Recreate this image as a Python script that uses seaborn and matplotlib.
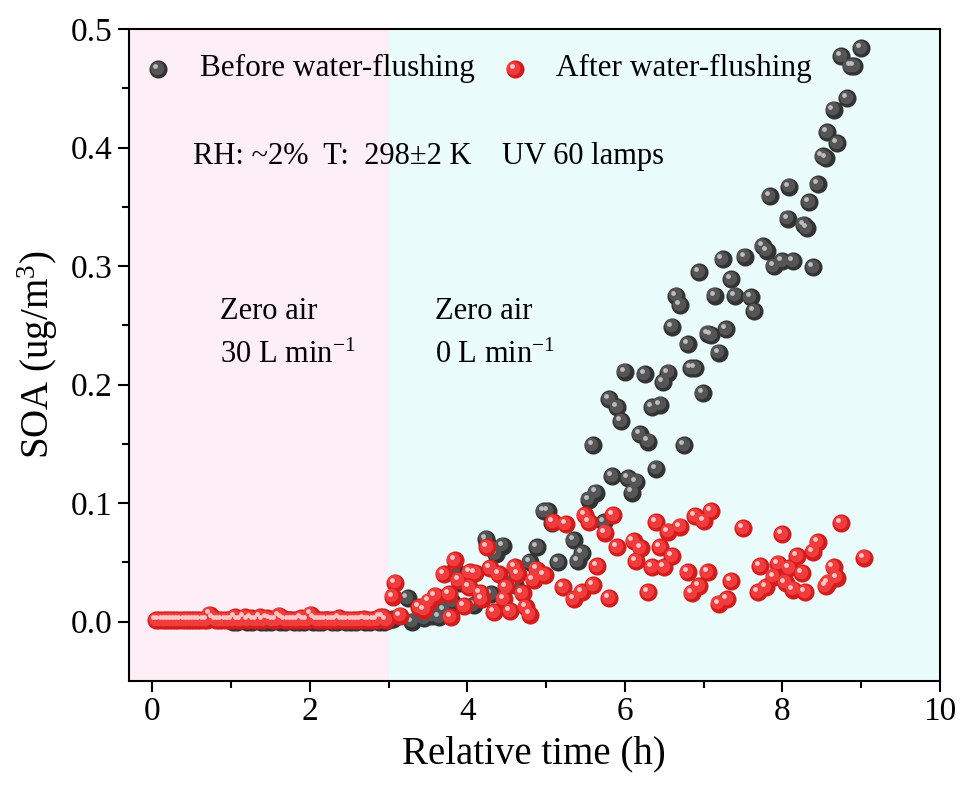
import numpy as np
import pandas as pd
import matplotlib
matplotlib.use("Agg")
import matplotlib.pyplot as plt
import matplotlib.transforms as mtransforms
import seaborn as sns

# ---- data ----
before_time = [1.02, 1.08, 1.14, 1.20, 1.26, 1.32, 1.38, 1.44, 1.50, 1.56, 1.62, 1.68, 1.74, 1.80,
               1.86, 1.92, 1.98, 2.04, 2.10, 2.16, 2.22, 2.28, 2.34, 2.40, 2.46, 2.52, 2.58, 2.64,
               2.70, 2.76, 2.82, 2.88, 2.94, 3.00,
               3.05, 3.24, 3.30, 3.45, 3.55, 3.64, 3.70, 3.81, 3.84, 3.91, 4.08, 4.24, 4.25, 4.30,
               4.36, 4.45, 4.48, 4.53, 4.60, 4.79, 4.89, 4.97, 5.02, 5.08, 5.15, 5.35, 5.40, 5.46,
               5.54, 5.59, 5.63, 5.74, 5.80, 5.84, 5.90, 5.95, 6.00, 6.04, 6.09, 6.14, 6.19, 6.25,
               6.30, 6.35, 6.40, 6.45, 6.49, 6.55, 6.60, 6.65, 6.70, 6.75, 6.80, 6.84, 6.89, 6.94,
               6.99, 7.05, 7.10, 7.14, 7.19, 7.24, 7.29, 7.35, 7.40, 7.52, 7.60, 7.64, 7.75, 7.80,
               7.84, 7.89, 8.00, 8.07, 8.09, 8.14, 8.27, 8.31, 8.34, 8.39, 8.45, 8.51, 8.55, 8.57,
               8.65, 8.70, 8.75, 8.82, 8.87, 8.91, 9.00]
before_soa = [0.000, 0.000, 0.001, 0.000, 0.000, 0.001, 0.000, 0.000, 0.000, 0.001, 0.000, 0.000,
              0.001, 0.000, 0.000, 0.000, 0.001, 0.000, 0.000, 0.000, 0.001, 0.000, 0.000, 0.001,
              0.000, 0.000, 0.000, 0.001, 0.000, 0.000, 0.001, 0.000, 0.000, 0.001,
              0.002, 0.020, 0.000, 0.003, 0.005, 0.004, 0.010, 0.017, 0.044, 0.033, 0.014, 0.070,
              0.066, 0.023, 0.057, 0.064, 0.037, 0.038, 0.031, 0.050, 0.063, 0.093, 0.093, 0.083,
              0.050, 0.069, 0.051, 0.058, 0.103, 0.149, 0.109, 0.084, 0.188, 0.123, 0.181, 0.169,
              0.211, 0.121, 0.109, 0.118, 0.158, 0.209, 0.152, 0.181, 0.129, 0.183, 0.202, 0.210,
              0.249, 0.275, 0.267, 0.149, 0.234, 0.214, 0.214, 0.295, 0.193, 0.243, 0.242, 0.275,
              0.227, 0.306, 0.247, 0.289, 0.275, 0.308, 0.274, 0.262, 0.317, 0.313, 0.359, 0.300,
              0.304, 0.340, 0.367, 0.304, 0.335, 0.332, 0.354, 0.299, 0.369, 0.393, 0.391, 0.413,
              0.432, 0.404, 0.477, 0.442, 0.469, 0.469, 0.484]

after_time = [0.05, 0.09, 0.13, 0.17, 0.21, 0.25, 0.29, 0.33, 0.37, 0.41, 0.45, 0.49, 0.53, 0.57,
              0.61, 0.65, 0.69, 0.73, 0.77, 0.81, 0.85, 0.89, 0.93, 0.97, 1.01, 1.05, 1.09, 1.13,
              1.17, 1.21, 1.25, 1.29, 1.33, 1.37, 1.41, 1.45, 1.49, 1.53, 1.57, 1.61, 1.65, 1.69,
              1.73, 1.77, 1.81, 1.85, 1.89, 1.93, 1.97, 2.01, 2.05, 2.09, 2.13, 2.17, 2.21, 2.25,
              2.29, 2.33, 2.37, 2.41, 2.45, 2.49, 2.53, 2.57, 2.61, 2.65, 2.69, 2.73, 2.77, 2.81,
              2.85, 2.89, 2.93, 2.97,
              3.05, 3.08, 3.15, 3.39, 3.45, 3.51, 3.59, 3.70, 3.77, 3.79, 3.84, 3.89, 3.96, 4.02,
              4.03, 4.10, 4.16, 4.18, 4.25, 4.29, 4.34, 4.40, 4.46, 4.49, 4.54, 4.60, 4.64, 4.70,
              4.74, 4.79, 4.84, 4.88, 4.98, 5.09, 5.22, 5.25, 5.35, 5.45, 5.49, 5.55, 5.60, 5.65,
              5.75, 5.80, 5.85, 5.90, 6.11, 6.14, 6.20, 6.30, 6.35, 6.40, 6.45, 6.50, 6.55, 6.60,
              6.70, 6.80, 6.85, 6.89, 6.94, 7.00, 7.05, 7.10, 7.19, 7.30, 7.35, 7.50, 7.69, 7.72,
              7.79, 7.89, 7.95, 8.00, 8.04, 8.09, 8.14, 8.19, 8.25, 8.29, 8.39, 8.45, 8.55, 8.58,
              8.65, 8.69, 8.75, 9.04]
after_soa = [0.001, 0.001, 0.001, 0.001, 0.001, 0.001, 0.001, 0.001, 0.001, 0.001, 0.001, 0.001,
             0.001, 0.001, 0.001, 0.001, 0.001, 0.006, 0.003, 0.001, 0.001, 0.001, 0.001, 0.001,
             0.001, 0.004, 0.001, 0.001, 0.004, 0.001, 0.003, 0.001, 0.001, 0.004, 0.001, 0.003,
             0.002, 0.001, 0.001, 0.005, 0.003, 0.001, 0.001, 0.001, 0.001, 0.001, 0.003, 0.001,
             0.001, 0.006, 0.003, 0.001, 0.001, 0.001, 0.001, 0.001, 0.001, 0.001, 0.003, 0.001,
             0.001, 0.001, 0.001, 0.001, 0.001, 0.001, 0.002, 0.001, 0.001, 0.001, 0.001, 0.004,
             0.004, 0.001,
             0.021, 0.033, 0.005, 0.012, 0.010, 0.017, 0.022, 0.040, 0.023, 0.004, 0.052, 0.035,
             0.013, 0.029, 0.042, 0.041, 0.024, 0.019, 0.063, 0.045, 0.008, 0.040, 0.019, 0.029,
             0.009, 0.046, 0.040, 0.024, 0.012, 0.006, 0.035, 0.044, 0.039, 0.084, 0.029, 0.082,
             0.019, 0.025, 0.090, 0.084, 0.031, 0.047, 0.075, 0.020, 0.090, 0.063, 0.068, 0.051,
             0.062, 0.025, 0.046, 0.084, 0.063, 0.046, 0.076, 0.055, 0.080, 0.042, 0.024, 0.089,
             0.030, 0.085, 0.042, 0.093, 0.015, 0.019, 0.034, 0.079, 0.025, 0.047, 0.029, 0.038,
             0.049, 0.074, 0.033, 0.045, 0.027, 0.055, 0.041, 0.025, 0.059, 0.067, 0.030, 0.033,
             0.046, 0.037, 0.083, 0.054]

before = pd.DataFrame({"time": before_time, "soa": before_soa})
after = pd.DataFrame({"time": after_time, "soa": after_soa})

sns.set_style("ticks")
plt.rcParams["font.family"] = ["Liberation Serif", "DejaVu Serif"]
plt.rcParams["mathtext.fontset"] = "custom"
plt.rcParams["mathtext.rm"] = "Liberation Serif"
plt.rcParams["mathtext.default"] = "regular"
plt.rcParams["text.color"] = "black"
plt.rcParams["axes.labelcolor"] = "black"
plt.rcParams["xtick.color"] = "black"
plt.rcParams["ytick.color"] = "black"

fig = plt.figure(figsize=(9.61, 7.89), dpi=100)
ax = fig.add_axes([0.134, 0.137, 0.844, 0.826])

# shaded periods
ax.axvspan(-0.3, 3.0, color="#fdeff5", zorder=0, lw=0)
ax.axvspan(3.0, 10.0, color="#ebfcfc", zorder=0, lw=0)

# sphere-like markers: base + lighter body + specular highlight
sphere_layers = {
    "dark": [("#333333", 170, 0.0), ("#555555", 95, -1.0), ("#bdbdbd", 12, -2.2)],
    "red": [("#d41c1c", 170, 0.0), ("#f03c3c", 95, -1.0), ("#ffc8c8", 12, -2.2)],
}


def draw_spheres(df, kind):
    for color, size, shift in sphere_layers[kind]:
        sns.scatterplot(data=df, x="time", y="soa", ax=ax, color=color, s=size,
                        linewidth=0, legend=False, zorder=3)
        off = mtransforms.ScaledTranslation(shift / 72, -shift / 72, fig.dpi_scale_trans)
        ax.collections[-1].set_offset_transform(ax.transData + off)


draw_spheres(before, "dark")
draw_spheres(after, "red")

# legend drawn by hand so the markers keep the sphere look
legend_items = [(0.036, 0.0875, "dark", "Before water-flushing"),
                (0.476, 0.5265, "red", "After water-flushing")]
for mx, tx, kind, label in legend_items:
    for color, size, shift in sphere_layers[kind]:
        off = mtransforms.ScaledTranslation(shift / 72, -shift / 72, fig.dpi_scale_trans)
        ax.scatter([mx], [0.939], s=size, color=color, linewidth=0,
                   transform=ax.transAxes + off, zorder=4, clip_on=False)
    ax.text(tx, 0.939, label, transform=ax.transAxes, fontsize=22.5, va="center", ha="left")

ax.text(0.079, 0.804, "RH: ~2%  T:  298±2 K    UV 60 lamps", transform=ax.transAxes,
        fontsize=22, va="center", ha="left")
ax.text(0.86, 0.262, "Zero air", fontsize=22, va="center", ha="left")
ax.text(0.86, 0.225, "30 L min$^{-1}$", fontsize=22, va="center", ha="left")
ax.text(3.59, 0.262, "Zero air", fontsize=22, va="center", ha="left")
ax.text(3.59, 0.225, "0 L min$^{-1}$", fontsize=22, va="center", ha="left")

ax.set_xlim(-0.3, 10)
ax.set_ylim(-0.05, 0.5)
ax.set_xticks([0, 2, 4, 6, 8, 10])
ax.set_xticks([1, 3, 5, 7, 9], minor=True)
ax.set_yticks([0.0, 0.1, 0.2, 0.3, 0.4, 0.5])
ax.set_yticks([0.05, 0.15, 0.25, 0.35, 0.45], minor=True)
ax.yaxis.set_major_formatter(matplotlib.ticker.FormatStrFormatter("%.1f"))
ax.tick_params(which="major", direction="out", length=8, width=1.5, labelsize=24,
               top=False, right=False)
ax.tick_params(which="minor", direction="out", length=5, width=1.5, top=False, right=False)
for sp in ax.spines.values():
    sp.set_linewidth(1.5)
    sp.set_color("black")

ax.set_xlabel("Relative time (h)", fontsize=28, labelpad=6)
ax.set_ylabel("SOA (ug/m$^{3}$)", fontsize=28, labelpad=8)

fig.savefig("out.png", dpi=100)
